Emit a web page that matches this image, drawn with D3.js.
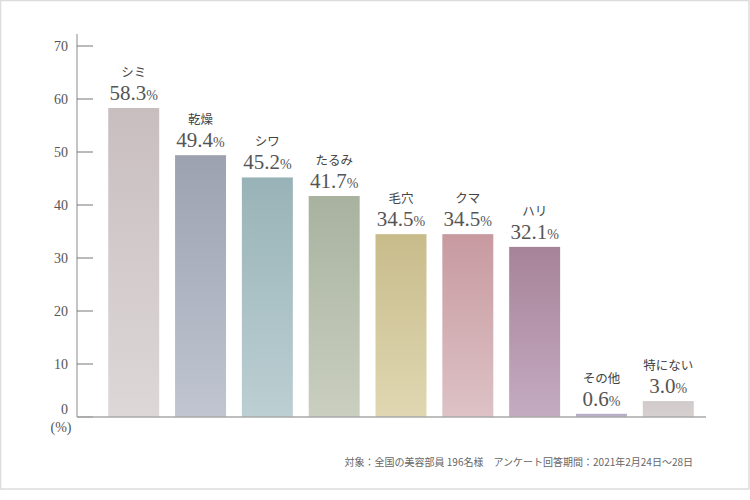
<!DOCTYPE html>
<html><head><meta charset="utf-8">
<script src="https://cdn.jsdelivr.net/npm/d3@7"></script>
<style>body{margin:0;background:#fff}svg{display:block}</style>
</head><body>
<svg id="c" width="750" height="500"></svg>
<script>
const categories = ["シミ","乾燥","シワ","たるみ","毛穴","クマ","ハリ","その他","特にない"];
const values = [58.3,49.4,45.2,41.7,34.5,34.5,32.1,0.6,3.0];
const topColors = ["#c8bebf","#9ca2b0","#98b3b7","#a8b29f","#c8bc8b","#c79aa0","#a78398","#b4abc4","#d0cacb"];
const bottomColors = ["#ddd7d8","#c0c5d1","#bccfd3","#cacfbf","#e0d7b2","#ddc2c6","#c4abc2","#bfb7cd","#d6d0d0"];
const yTicks = [0,10,20,30,40,50,60,70];
const footnote = "対象：全国の美容部員 196名様　アンケート回答期間：2021年2月24日～28日";

const svg = d3.select("#c");
const serif = "'Liberation Serif','DejaVu Serif',serif";
const jp = "'Noto Sans CJK JP',sans-serif";

svg.append("rect").attr("x",0.5).attr("y",0.5).attr("width",748.5).attr("height",488.5)
  .attr("fill","#fff").attr("stroke","#dcdcdc").attr("stroke-width",1.5);

const y = d3.scaleLinear().domain([0,70]).range([417,46]);
const x = d3.scaleBand().domain(categories).range([97,705]).paddingInner(0.237).paddingOuter(0.168);

const defs = svg.append("defs");
categories.forEach((c,i)=>{
  const g = defs.append("linearGradient").attr("id","g"+i).attr("x1",0).attr("y1",0).attr("x2",0).attr("y2",1);
  g.append("stop").attr("offset","0%").attr("stop-color",topColors[i]);
  g.append("stop").attr("offset","100%").attr("stop-color",bottomColors[i]);
});

// y axis
svg.append("line").attr("x1",77).attr("x2",77).attr("y1",34).attr("y2",417)
  .attr("stroke","#b0b0b0").attr("stroke-width",1.5);
svg.selectAll(".tk").data(yTicks).join("line")
  .attr("x1",77).attr("x2",93).attr("y1",d=>y(d)).attr("y2",d=>y(d))
  .attr("stroke","#777").attr("stroke-width",1);
svg.selectAll(".tl").data(yTicks).join("text")
  .attr("x",68).attr("y",d=>y(d)+(d===0?-3:5)).attr("text-anchor","end")
  .attr("font-family",serif).attr("font-size",14).attr("fill","#555").text(d=>d);
svg.append("text").attr("x",61).attr("y",432).attr("text-anchor","middle")
  .attr("font-family",serif).attr("font-size",14).attr("fill","#555").text("(%)");

// bars
svg.selectAll(".bar").data(values).join("rect")
  .attr("x",(d,i)=>x(categories[i])).attr("width",x.bandwidth())
  .attr("y",d=>y(d)).attr("height",d=>y(0)-y(d))
  .attr("fill",(d,i)=>`url(#g${i})`);

// baseline
svg.append("line").attr("x1",77).attr("x2",706).attr("y1",417).attr("y2",417)
  .attr("stroke","#a8a8a8").attr("stroke-width",1.5);

// labels
const lab = svg.selectAll(".lab").data(values).join("g")
  .attr("transform",(d,i)=>`translate(${x(categories[i])+x.bandwidth()/2},${y(d)})`);
lab.append("text").attr("y",-31).attr("text-anchor","middle")
  .attr("font-family",jp).attr("font-size",12.5).attr("fill","#444")
  .text((d,i)=>categories[i]);
const vt = lab.append("text").attr("y",-8).attr("text-anchor","middle")
  .attr("font-family",serif).attr("fill","#555");
vt.append("tspan").attr("font-size",21).text(d=>d.toFixed(1));
vt.append("tspan").attr("font-size",14).text("%");

svg.append("text").attr("x",693).attr("y",466).attr("text-anchor","end")
  .attr("font-family",jp).attr("font-size",10).attr("fill","#666").text(footnote);
</script>
</body></html>
